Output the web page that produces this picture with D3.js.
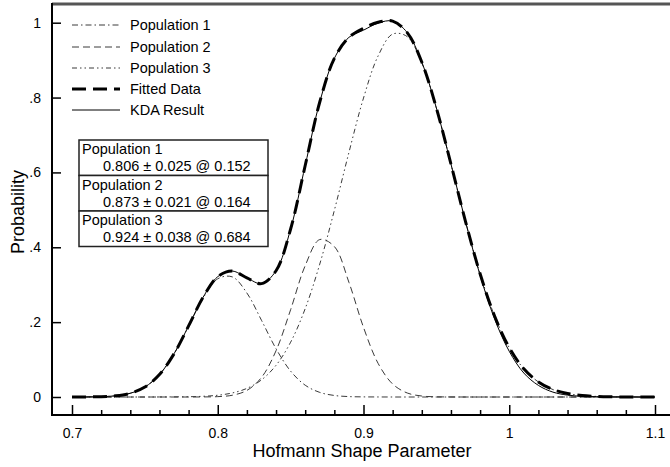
<!DOCTYPE html>
<html><head><meta charset="utf-8">
<script src="https://cdn.jsdelivr.net/npm/d3@7"></script>
<style>
body{margin:0;background:#fff;}
svg{display:block;font-family:"Liberation Sans",Arial,Helvetica,sans-serif;}
</style></head>
<body><svg id="c" width="670" height="467"></svg>
<script>
const xValues = [0.70,0.71,0.72,0.73,0.74,0.75,0.76,0.77,0.78,0.79,0.80,0.81,0.82,0.83,0.84,0.85,0.86,0.87,0.88,0.89,0.90,0.91,0.92,0.93,0.94,0.95,0.96,0.97,0.98,0.99,1.00,1.01,1.02,1.03,1.04,1.05,1.06,1.07,1.08,1.09,1.10];
const population1 = [0.0000,0.0002,0.0009,0.0032,0.0100,0.0265,0.0598,0.1152,0.1892,0.2648,0.3158,0.3209,0.2778,0.2050,0.1289,0.0691,0.0315,0.0123,0.0041,0.0011,0.0003,0.0001,0,0,0,0,0,0,0,0,0,0,0,0,0,0,0,0,0,0,0];
const population2 = [0,0,0,0,0,0,0,0,0,0.0002,0.0010,0.0047,0.0176,0.0522,0.1237,0.2333,0.3509,0.4207,0.4020,0.3063,0.1860,0.0900,0.0347,0.0107,0.0026,0.0005,0.0001,0,0,0,0,0,0,0,0,0,0,0,0,0,0];
const population3 = [0,0,0,0,0,0,0.0001,0.0003,0.0007,0.0019,0.0047,0.0108,0.0230,0.0457,0.0847,0.1464,0.2361,0.3552,0.4987,0.6534,0.7987,0.9110,0.9696,0.9629,0.8923,0.7715,0.6224,0.4686,0.3291,0.2158,0.1319,0.0753,0.0401,0.0199,0.0092,0.0040,0.0016,0.0006,0.0002,0.0001,0.0000];
const fittedData = [0.0000,0.0002,0.0009,0.0032,0.0100,0.0265,0.0599,0.1155,0.1899,0.2669,0.3215,0.3364,0.3184,0.3029,0.3373,0.4488,0.6185,0.7882,0.9048,0.9608,0.9850,1.0011,1.0043,0.9736,0.8949,0.7720,0.6225,0.4686,0.3291,0.2158,0.1319,0.0753,0.0401,0.0199,0.0092,0.0040,0.0016,0.0006,0.0002,0.0001,0.0000];
const kdaResult = [0.0000,0.0002,0.0009,0.0032,0.0100,0.0265,0.0599,0.1155,0.1899,0.2669,0.3215,0.3364,0.3184,0.3029,0.3373,0.4488,0.6185,0.7882,0.9048,0.9608,0.9800,0.9990,1.0043,0.9736,0.8949,0.7720,0.6225,0.4686,0.3250,0.2080,0.1220,0.0640,0.0310,0.0130,0.0050,0.0020,0.0008,0.0003,0.0001,0.0000,0.0000];
const seriesNames = ["Population 1","Population 2","Population 3","Fitted Data","KDA Result"];
const xTicks = [0.7,0.8,0.9,1.0,1.1];
const xTickLabels = ["0.7","0.8","0.9","1","1.1"];
const yTicks = [0,0.2,0.4,0.6,0.8,1.0];
const yTickLabels = ["0",".2",".4",".6",".8","1"];
const tableTitles = ["Population 1","Population 2","Population 3"];
const tableValues = ["0.806 \u00b1 0.025 @ 0.152","0.873 \u00b1 0.021 @ 0.164","0.924 \u00b1 0.038 @ 0.684"];

const svg = d3.select("#c");
const X0 = 52, Y0 = 415, XR = 670, YT = 4;
const x = d3.scaleLinear().domain([0.7,1.1]).range([72,655]);
const y = d3.scaleLinear().domain([0,1]).range([397,22.7]);
const FONT = "Liberation Sans, Arial, sans-serif";

const styles = [
  {stroke:"#3a3a3a", w:1, dash:"6,3,1.5,3"},
  {stroke:"#3a3a3a", w:1, dash:"7,4"},
  {stroke:"#3a3a3a", w:1, dash:"5,3,1.5,3,1.5,3"},
  {stroke:"#000", w:3, dash:"14,7"},
  {stroke:"#000", w:1, dash:null}
];
const allSeries = [population1,population2,population3,fittedData,kdaResult];
const line = d3.line().x(d=>x(d[0])).y(d=>y(d[1])).curve(d3.curveCatmullRom.alpha(0.5));

allSeries.forEach((s,i)=>{
  const pts = xValues.map((v,j)=>[v,s[j]]);
  svg.append("path").attr("d",line(pts)).attr("fill","none")
    .attr("stroke",styles[i].stroke).attr("stroke-width",styles[i].w)
    .attr("stroke-dasharray",styles[i].dash).attr("stroke-linejoin","round");
});

// frame
svg.append("line").attr("x1",X0).attr("x2",XR).attr("y1",YT).attr("y2",YT).attr("stroke","#555").attr("stroke-width",3);
svg.append("line").attr("x1",X0).attr("x2",X0).attr("y1",YT-1).attr("y2",Y0+1).attr("stroke","#000").attr("stroke-width",2);
svg.append("line").attr("x1",X0-1).attr("x2",XR).attr("y1",Y0).attr("y2",Y0).attr("stroke","#000").attr("stroke-width",2);

// x axis
const xMinor = d3.range(0.70,1.1001,0.02).filter(v=>Math.abs(Math.round(v*10)-v*10)>1e-6);
const gxm = svg.append("g").attr("transform",`translate(0,${Y0})`)
  .call(d3.axisBottom(x).tickValues(xMinor).tickSize(-5).tickFormat(""));
const gx = svg.append("g").attr("transform",`translate(0,${Y0})`)
  .call(d3.axisBottom(x).tickValues(xTicks).tickSize(-10).tickPadding(13).tickFormat((d,i)=>xTickLabels[i]));
[gxm,gx].forEach(g=>{g.select(".domain").remove(); g.selectAll(".tick line").attr("stroke","#000").attr("stroke-width",1.5);});
gx.selectAll("text").attr("font-size",14).attr("fill","#000").attr("font-family",FONT);

// y axis
const gy = svg.append("g").attr("transform",`translate(${X0},0)`)
  .call(d3.axisLeft(y).tickValues(yTicks).tickSize(-9).tickPadding(11).tickFormat((d,i)=>yTickLabels[i]));
gy.select(".domain").remove();
gy.selectAll(".tick line").attr("stroke","#000").attr("stroke-width",1.5);
gy.selectAll("text").attr("font-size",14).attr("fill","#000").attr("font-family",FONT);

// titles
svg.append("text").attr("x",362).attr("y",457).attr("text-anchor","middle").attr("font-size",18).text("Hofmann Shape Parameter");
svg.append("text").attr("transform","translate(24,212) rotate(-90)").attr("text-anchor","middle").attr("font-size",18).text("Probability");

// legend
const legY = [25,47,68,89,110];
seriesNames.forEach((n,i)=>{
  svg.append("line").attr("x1",72).attr("x2",120).attr("y1",legY[i]).attr("y2",legY[i])
    .attr("stroke",styles[i].stroke).attr("stroke-width",styles[i].w).attr("stroke-dasharray",styles[i].dash);
  svg.append("text").attr("x",130).attr("y",legY[i]+5).attr("font-size",14.5).text(n);
});

// table
const tx0=79, tx1=268, ty0=140, rowH=35.5;
tableTitles.forEach((t,i)=>{
  const top = ty0 + i*rowH;
  svg.append("rect").attr("x",tx0).attr("y",top).attr("width",tx1-tx0).attr("height",rowH)
    .attr("fill","#fff").attr("stroke","#222").attr("stroke-width",1.5);
  svg.append("text").attr("x",82).attr("y",top+14).attr("font-size",14.5).text(t);
  svg.append("text").attr("x",103).attr("y",top+31).attr("font-size",14.5).text(tableValues[i]);
});
</script></body></html>
